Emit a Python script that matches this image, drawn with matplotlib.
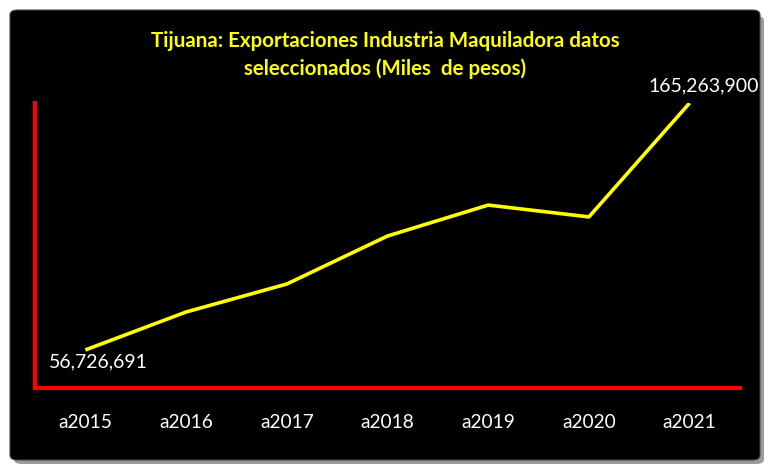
import matplotlib.pyplot as plt
from matplotlib.patches import FancyBboxPatch

# Data (miles de pesos)
years = ["a2015", "a2016", "a2017", "a2018", "a2019", "a2020", "a2021"]
values = [56726691, 73400000, 85700000, 106800000, 120400000, 115200000, 165263900]

plt.rcParams['font.family'] = ['Lato', 'DejaVu Sans']

fig = plt.figure(figsize=(7.7, 4.7), dpi=100)
fig.patch.set_facecolor("white")

# shadow + black panel
shadow = FancyBboxPatch((14 / 770, 6 / 470), 750 / 770, 448 / 470,
                        boxstyle="round,pad=0,rounding_size=0.01",
                        transform=fig.transFigure, facecolor="#9a9a9a",
                        edgecolor="none", zorder=0)
panel = FancyBboxPatch((10 / 770, 10 / 470), 750 / 770, 450 / 470,
                       boxstyle="round,pad=0,rounding_size=0.01",
                       transform=fig.transFigure, facecolor="black",
                       edgecolor="#444444", linewidth=0.8, zorder=1)
fig.patches.extend([shadow, panel])

ax = fig.add_axes([35 / 770, 82 / 470, 705 / 770, 285 / 470])
ax.set_zorder(3)
ax.set_facecolor("none")
x = list(range(len(years)))
ax.plot(x, values, color="yellow", linewidth=2.6, solid_capstyle="butt")

ax.set_xlim(-0.5, 6.5)
ax.set_ylim(40000000, 165263900)

for s in ["top", "right"]:
    ax.spines[s].set_visible(False)
for s in ["left", "bottom"]:
    ax.spines[s].set_color("red")
    ax.spines[s].set_linewidth(3)

ax.set_yticks([])
ax.set_xticks(x)
ax.set_xticklabels(years, color="white", fontsize=13.8)
ax.tick_params(axis="x", length=0, pad=19)

# data labels on first and last points
ax.annotate(f"{values[0]:,}", (0, values[0]), xytext=(9.4, -8.8),
            textcoords="offset points", ha="center", va="center",
            color="white", fontsize=14)
ax.annotate(f"{values[-1]:,}", (6, values[-1]), xytext=(10, 12.2),
            textcoords="offset points", ha="center", va="center",
            color="white", fontsize=14, annotation_clip=False)

title = fig.text(385 / 770, 1 - 55 / 470,
                 "Tijuana: Exportaciones Industria Maquiladora datos\nseleccionados (Miles  de pesos)",
                 ha="center", va="center", color="yellow", fontsize=14.8,
                 fontweight="bold", linespacing=1.4)
title.set_zorder(4)

fig.savefig("out.png", dpi=100, facecolor=fig.get_facecolor())
